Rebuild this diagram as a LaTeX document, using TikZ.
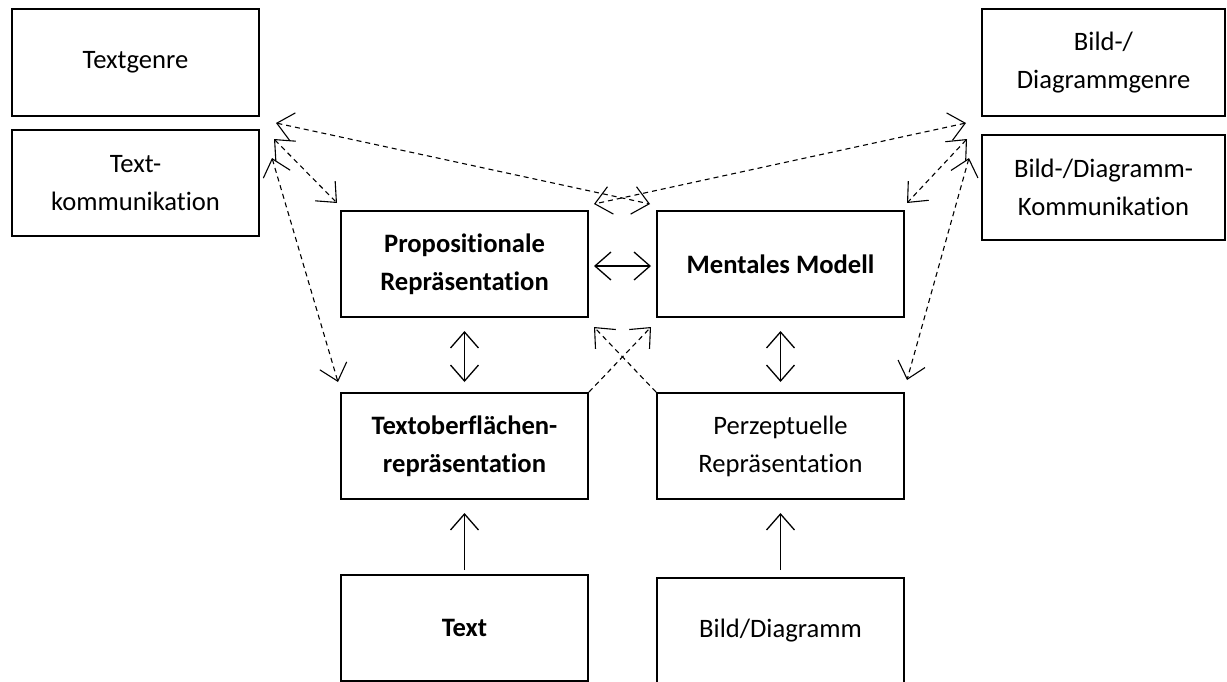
\documentclass[tikz,border=0pt]{standalone}
\usepackage{fontspec}
\setmainfont{Carlito}[Ligatures=NoCommon]
\usetikzlibrary{arrows.meta,calc}
\begin{document}
\begin{tikzpicture}[x=0.5pt,y=-0.5pt,
  >={Straight Barb[length=8pt,width=14pt]},
  box/.style={draw,line width=1pt,rectangle,minimum width=123.5pt,minimum height=53pt,
    align=center,inner sep=0pt,font=\fontsize{13.3}{19}\selectfont},
  bbox/.style={box,font=\fontsize{13.3}{19}\selectfont\bfseries},
  rbox/.style={box,minimum width=121.5pt},
  solidarrow/.style={line width=0.65pt,<->},
  uparrow/.style={line width=0.65pt,->},
  dasharrow/.style={line width=0.55pt,dash pattern=on 2.5pt off 2pt,<->},
  dashone/.style={line width=0.55pt,dash pattern=on 2.5pt off 2pt,->}]
\useasboundingbox (0,0) rectangle (1227,681);
\clip (0,0) rectangle (1227,681);
% boxes
\node[box,minimum height=53.5pt] (tg) at (135.5,62.5) {Textgenre};
\node[box] (tk) at (135.5,183) {Text-\\kommunikation};
\node[rbox,minimum height=53.5pt] (bg) at (1103.5,62.5) {Bild-/\\Diagrammgenre};
\node[rbox,minimum height=52.5pt] (bk) at (1103.5,187.5) {Bild-/Diagramm-\\Kommunikation};
\node[bbox] (prop) at (464.5,264) {Propositionale\\Repräsentation};
\node[bbox] (mm) at (780.5,264) {Mentales Modell};
\node[bbox] (to) at (464.5,446) {Textoberflächen-\\repräsentation};
\node[box] (pz) at (780.5,446) {Perzeptuelle\\Repräsentation};
\node[bbox] (tx) at (464.5,628) {Text};
\node[box] (bd) at (780.5,631) {Bild/Diagramm};
% solid arrows
\draw[solidarrow,shorten <=2.5pt,shorten >=2.5pt] ($(prop.east)+(0,2)$) -- ($(mm.west)+(0,2)$);
\draw[solidarrow,shorten <=6.5pt,shorten >=5pt] (prop.south) -- (to.north);
\draw[solidarrow,shorten <=6.5pt,shorten >=5pt] (mm.south) -- (pz.north);
\draw[uparrow,shorten <=2pt,shorten >=6.5pt] (tx.north) -- (to.south);
\draw[uparrow,shorten <=3.5pt,shorten >=6.5pt] (bd.north) -- (pz.south);
% free ends of dashed connectors
\coordinate (l1) at (276,123);
\coordinate (l2) at (274,139);
\coordinate (l3) at (272,158);
\coordinate (r1) at (966,123);
\coordinate (r2) at (967,139);
\coordinate (r3) at (969,158);
\coordinate (propNE) at ($(prop.north east)+(5,-6)$);
\coordinate (propNW) at ($(prop.north west)+(-3,-7)$);
\coordinate (mmNW) at ($(mm.north west)+(-6,-6)$);
\coordinate (mmNE) at ($(mm.north east)+(2,-7)$);
\coordinate (toNW) at ($(to.north west)+(-2,-10)$);
\coordinate (pzNE) at ($(pz.north east)+(2,-12)$);
\coordinate (propSE) at ($(prop.south east)+(5,9)$);
\coordinate (mmSW) at ($(mm.south west)+(-5,9)$);
% dashed arrows
\draw[dasharrow] (l1) -- (mmNW);
\draw[dasharrow] (r1) -- (propNE);
\draw[dasharrow] (l2) -- (propNW);
\draw[dasharrow] (l3) -- (toNW);
\draw[dasharrow] (r2) -- (mmNE);
\draw[dasharrow] (r3) -- (pzNE);
\draw[dashone] (to.north east) -- (mmSW);
\draw[dashone] (pz.north west) -- (propSE);
\end{tikzpicture}
\end{document}
